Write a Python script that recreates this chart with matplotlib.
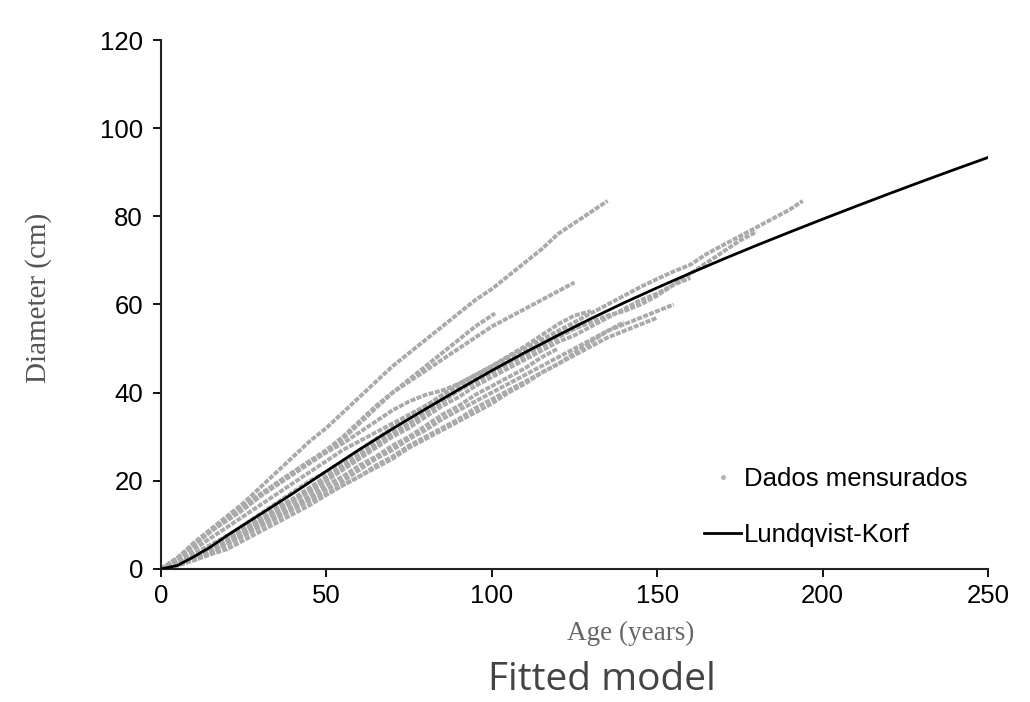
import matplotlib
matplotlib.use("Agg")
import matplotlib.pyplot as plt
from matplotlib.lines import Line2D

tree_a_age = [0, 5, 10, 15, 20, 25, 30, 35, 40, 45, 50, 55, 60, 65, 70, 75, 80, 85, 90, 95, 100, 105, 110, 115, 120, 125, 130, 135]
tree_a_d = [0, 2.5, 6, 9, 12, 15, 18.5, 22, 25.5, 29, 32, 35.5, 39, 42.5, 46, 49, 52, 55, 58, 61, 63.5, 66.5, 69.5, 72.5, 76, 78.5, 81, 83.5]

tree_b_age = [0, 5, 10, 15, 20, 25, 30, 35, 40, 45, 50, 55, 60, 65, 70, 75, 80, 85, 90, 95, 101]
tree_b_d = [0, 2.5, 5.5, 8.5, 11.5, 14, 16.5, 19, 21.5, 24, 26.5, 29.5, 33, 36.5, 40, 43, 46, 49, 52, 55, 58]

tree_c_age = [0, 5, 10, 15, 20, 25, 30, 35, 40, 45, 50, 55, 60, 65, 70, 75, 80, 85, 90, 95, 100, 105, 110, 115, 120, 125]
tree_c_d = [0, 2.5, 5.5, 8.5, 11.5, 14.5, 17, 19.5, 22, 24.5, 27, 30, 33.5, 37, 40, 42.5, 45, 47.5, 50, 52.5, 55, 57, 59, 61, 63, 65]

tree_d_age = [0, 5, 10, 15, 20, 25, 30, 35, 40, 45, 50, 55, 60, 65, 70, 75, 80, 85, 90, 95, 100, 105, 110, 115, 120, 125, 130]
tree_d_d = [0, 2.5, 5.5, 8.5, 11, 13.5, 16.5, 19.5, 22, 24.5, 26.5, 28.5, 31, 33.5, 36, 38, 39.5, 40.5, 42, 44, 46, 48.3, 50.5, 53, 55.5, 57.5, 58.5]

tree_e_age = [0, 5, 10, 15, 20, 25, 30, 35, 40, 45, 50, 55, 60, 65, 70, 75, 80, 85, 90, 95, 100, 105, 110, 115, 120, 125, 128]
tree_e_d = [0, 2, 4.5, 7, 9.5, 12, 14.5, 17, 19.5, 22, 24.5, 27, 29, 31, 33, 35, 37, 39, 41, 43, 45, 47, 49, 51, 53, 55, 56]

tree_f_age = [0, 5, 10, 15, 20, 25, 30, 35, 40, 45, 50, 55, 60, 65, 70, 75, 80, 85, 90, 95, 100, 105, 110, 115, 120, 125, 130, 135, 140, 145, 150, 155, 160, 165, 170, 175, 180, 185, 190, 194]
tree_f_d = [0, 1.5, 3.5, 5.5, 7.5, 10, 12.5, 15, 17.5, 20, 22, 24.5, 27, 29.5, 32, 34.5, 37, 39.5, 42, 44, 46, 48, 50, 52, 54, 56, 58, 60, 62, 64, 65.8, 67.5, 69, 71.5, 73.5, 75.5, 77.5, 79.5, 81.5, 83.5]

tree_g_age = [0, 5, 10, 15, 20, 25, 30, 35, 40, 45, 50, 55, 60, 65, 70, 75, 80, 85, 90, 95, 100, 105, 110, 115, 120, 125, 130, 135, 140, 145, 150, 155, 160, 165, 170, 175, 180]
tree_g_d = [0, 1.2, 3, 5, 7, 9, 11.5, 14, 16, 18.5, 21, 23.5, 26, 28.5, 31, 33, 35.5, 38, 40.5, 43, 45, 47, 49, 51, 53, 54.5, 56, 57.5, 58.5, 60, 62, 64.5, 67, 69.5, 72, 74.5, 76.5]

tree_h_age = [0, 5, 10, 15, 20, 25, 30, 35, 40, 45, 50, 55, 60, 65, 70, 75, 80, 85, 90, 95, 100, 105, 110, 115, 120, 125, 130, 135, 140, 145, 150, 155, 160]
tree_h_d = [0, 1, 2.5, 4.5, 6.5, 8.5, 11, 13, 15.5, 17.5, 20, 22.5, 25, 27.5, 30, 32, 34.5, 37, 39, 41.5, 43.5, 45.5, 47.5, 49.5, 51.5, 53, 55, 57, 59, 61, 62.5, 64.5, 66]

tree_i_age = [0, 5, 10, 15, 20, 25, 30, 35, 40, 45, 50, 55, 60, 65, 70, 75, 80, 85, 90, 95, 100, 105, 110, 115, 120, 125, 130, 135, 140, 145, 150, 155]
tree_i_d = [0, 1, 2.5, 4, 6, 8, 10, 12, 14, 16, 18, 20, 22.5, 25, 27, 29.5, 31.5, 34, 36, 38, 40, 42, 44, 46, 48, 50, 52, 54, 55.5, 57, 58.5, 60]

tree_j_age = [0, 5, 10, 15, 20, 25, 30, 35, 40, 45, 50, 55, 60, 65, 70, 75, 80, 85, 90, 95, 100, 105, 110, 115, 120, 125, 130, 135, 140, 145, 150]
tree_j_d = [0, 0.8, 2, 3.5, 5.5, 7.5, 9.5, 11.5, 13.5, 15.5, 17, 19, 21, 23.5, 25.5, 28, 30, 32, 34, 36.5, 38.5, 40.5, 42.5, 44.5, 46.5, 48.5, 50.5, 52.5, 54, 55.5, 57]

tree_k_age = [0, 5, 10, 15, 20, 25, 30, 35, 40, 45, 50, 55, 60, 65, 70, 75, 80, 85, 90, 95, 100, 105, 110, 115, 120, 125, 128]
tree_k_d = [0, 1.2, 3, 5, 7, 9, 11, 13.5, 15.5, 18, 20.5, 23, 25.5, 28, 30.5, 33, 35.5, 38, 40.5, 42.5, 44.5, 46.5, 48.5, 50.5, 52.5, 54.5, 55.5]

tree_l_age = [0, 5, 10, 15, 20, 25, 30, 35, 40, 45, 50, 55, 60, 65, 70, 75, 80, 85, 90, 95, 100, 105, 110, 115, 120]
tree_l_d = [0, 1, 2.5, 4, 6, 8, 10.5, 12.5, 14.5, 16.5, 19, 21, 23.5, 25.5, 28, 30, 32.5, 35, 37, 39.5, 41.5, 43.5, 45.5, 48, 50]

tree_m_age = [0, 5, 10, 15, 20, 25, 30, 35, 40, 45, 50, 55, 60, 65, 70, 75, 80, 85, 90, 95, 100, 105, 110, 115, 120, 125, 130, 135, 140]
tree_m_d = [0, 0.8, 2, 3.3, 4.5, 6.5, 8.5, 10.5, 12.5, 14.5, 16.8, 19, 21, 23, 25, 27.5, 29.5, 31.5, 33.5, 35.5, 37.5, 40, 42, 44.5, 46.5, 49, 51.5, 54, 56]

trees = [
    (tree_a_age, tree_a_d), (tree_b_age, tree_b_d), (tree_c_age, tree_c_d),
    (tree_d_age, tree_d_d), (tree_e_age, tree_e_d), (tree_f_age, tree_f_d),
    (tree_g_age, tree_g_d), (tree_h_age, tree_h_d), (tree_i_age, tree_i_d),
    (tree_j_age, tree_j_d), (tree_k_age, tree_k_d), (tree_l_age, tree_l_d),
    (tree_m_age, tree_m_d),
]

# ---- fitted Lundqvist-Korf curve ----
model_age = [0, 5, 10, 15, 20, 25, 30, 35, 40, 45, 50, 60, 70, 80, 90, 100, 110, 120, 130, 140,
             150, 160, 170, 180, 190, 200, 210, 220, 230, 240, 250]
model_d = [0, 0.8, 2.8, 5.0, 7.6, 10.0, 12.4, 14.8, 17.2, 19.7, 22.2, 27.1, 31.8, 36.3, 40.7, 45.0,
           49.1, 53.0, 56.8, 60.4, 63.8, 67.1, 70.3, 73.4, 76.4, 79.35, 82.25, 85.1, 87.9, 90.65, 93.35]

x_ticks = [0, 50, 100, 150, 200, 250]
y_ticks = [0, 20, 40, 60, 80, 100, 120]

legend_labels = ["Dados mensurados", "Lundqvist-Korf"]
x_label = "Age (years)"
y_label = "Diameter (cm)"
caption = "Fitted model"

plt.rcParams['font.family'] = ['Liberation Sans', 'DejaVu Sans']

fig = plt.figure(figsize=(10.30, 7.02), dpi=100)
ax = fig.add_axes([0.1563, 0.1895, 0.8029, 0.7535])

gray = '#aaaaaa'
for ages, diam in trees:
    ax.plot(ages, diam, color=gray, lw=2.8, ls=(0, (1.3, 0.35)), solid_capstyle='butt', zorder=2)

ax.plot(model_age, model_d, color='black', lw=2.0, zorder=3)

ax.set_xlim(0, 250)
ax.set_ylim(0, 120)
ax.set_xticks(x_ticks)
ax.set_yticks(y_ticks)
ax.tick_params(axis='both', direction='out', length=6, width=1.3, labelsize=18.5,
               colors='black')
ax.tick_params(axis='y', pad=7)
ax.tick_params(axis='x', pad=5)
for side in ('top', 'right'):
    ax.spines[side].set_visible(False)
for side in ('left', 'bottom'):
    ax.spines[side].set_linewidth(1.5)
    ax.spines[side].set_color('#222222')

handles = [
    Line2D([], [], marker='o', ms=2.6, color='#b4b4b4', ls='none'),
    Line2D([], [], color='black', lw=2.0),
]
ax.legend(handles, legend_labels, loc='upper left', bbox_to_anchor=(0.671, 0.353),
          bbox_transform=fig.transFigure, frameon=False, fontsize=18.5,
          handlelength=1.45, handletextpad=0.12, labelspacing=1.25, borderpad=0)

fig.text(0.6126, 0.098, x_label, family=['Liberation Serif', 'DejaVu Serif'],
         fontsize=19.5, color='#666666', ha='center', va='center')
fig.text(0.037, 0.575, y_label, family=['Liberation Serif', 'DejaVu Serif'],
         fontsize=21, color='#555555', ha='center', va='center', rotation=90)
fig.text(0.584, 0.032, caption, family=['Open Sans', 'DejaVu Sans'],
         fontsize=28, color='#444444', ha='center', va='center')

fig.savefig('out.png', dpi=100)
